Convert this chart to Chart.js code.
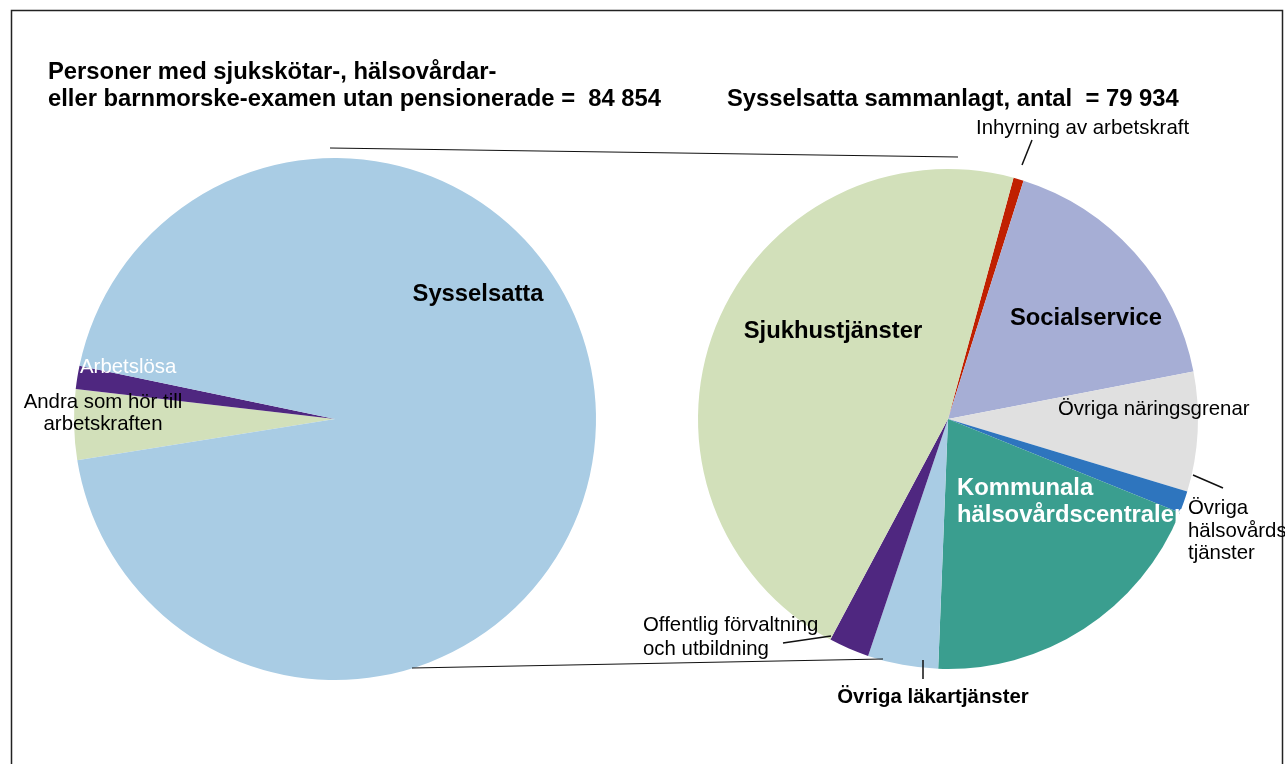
<!DOCTYPE html>
<html>
<head>
<meta charset="utf-8">
<script src="https://cdn.jsdelivr.net/npm/chart.js@4"></script>
<style>
  html, body { margin: 0; padding: 0; background: #fff; }
  #wrap { position: relative; width: 1285px; height: 764px; overflow: hidden; }
  #wrap canvas { position: absolute; left: 0; top: 0; }
</style>
</head>
<body>
<div id="wrap">
  <canvas id="rightPie" width="1285" height="764"></canvas>
  <canvas id="leftPie" width="1285" height="764"></canvas>
</div>
<script>
// left pie: all with the exam (84 854)
var leftLabels = ['Andra som hör till arbetskraften', 'Arbetslösa', 'Sysselsatta'];
var leftValues = [3700, 1220, 79934];
var leftColors = ['#D2E0BA', '#4F2780', '#A9CCE4'];

// right pie: employed by industry (79 934)
var rightLabels = ['Inhyrning av arbetskraft', 'Socialservice', 'Övriga näringsgrenar',
  'Övriga hälsovårdstjänster', 'Kommunala hälsovårdscentraler', 'Övriga läkartjänster',
  'Offentlig förvaltning och utbildning', 'Sjukhustjänster'];
var rightValues = [530, 13650, 6170, 1150, 15590, 3640, 2090, 37110];
var rightColors = ['#C02000', '#A6AED5', '#E0E0E0', '#2E75BE', '#3A9E8F', '#A9CCE4', '#4F2780', '#D2E0BA'];

var FONT = '"Liberation Sans", Arial, sans-serif';

// text placed on the page (s = font size, b = bold)
var notes = [
  { t: 'Personer med sjukskötar-, hälsovårdar-', x: 48, y: 72, b: true },
  { t: 'eller barnmorske-examen utan pensionerade =  84 854', x: 48, y: 99, b: true },
  { t: 'Sysselsatta sammanlagt, antal  = 79 934', x: 727, y: 99, b: true },
  { t: 'Inhyrning av arbetskraft', x: 976, y: 128 },
  { t: 'Sysselsatta', x: 478, y: 294, b: true, a: 'center' },
  { t: 'Arbetslösa', x: 80, y: 367, c: '#fff' },
  { t: 'Andra som hör till', x: 103, y: 402, a: 'center' },
  { t: 'arbetskraften', x: 103, y: 424, a: 'center' },
  { t: 'Sjukhustjänster', x: 833, y: 331, b: true, a: 'center' },
  { t: 'Socialservice', x: 1086, y: 318, b: true, a: 'center' },
  { t: 'Övriga näringsgrenar', x: 1058, y: 409 },
  { t: 'Kommunala', x: 957, y: 488, b: true, c: '#fff' },
  { t: 'hälsovårdscentraler', x: 957, y: 515, b: true, c: '#fff' },
  { t: 'Övriga', x: 1188, y: 508 },
  { t: 'hälsovårds', x: 1188, y: 531 },
  { t: 'tjänster', x: 1188, y: 553 },
  { t: 'Offentlig förvaltning', x: 643, y: 625 },
  { t: 'och utbildning', x: 643, y: 649 },
  { t: 'Övriga läkartjänster', x: 933, y: 697, b: true, s: 20.4, a: 'center' }
];

// connector and leader lines
var strokes = [
  [330, 148, 958, 157, 1.2],
  [412, 668, 883, 659, 1.2],
  [1032, 140, 1022, 165, 1.5],
  [1193, 475, 1223, 488, 1.5],
  [783, 643, 831, 636, 1.5],
  [923, 660, 923, 679, 1.5]
];

var overlay = {
  id: 'overlay',
  afterDraw: function(chart) {
    var ctx = chart.ctx;
    ctx.save();
    // frame
    ctx.strokeStyle = '#222';
    ctx.lineWidth = 1.5;
    ctx.strokeRect(11.5, 10.5, 1271, 800);

    strokes.forEach(function(s) {
      ctx.beginPath();
      ctx.lineWidth = s[4];
      ctx.strokeStyle = '#111';
      ctx.moveTo(s[0], s[1]);
      ctx.lineTo(s[2], s[3]);
      ctx.stroke();
    });

    ctx.textBaseline = 'middle';
    notes.forEach(function(n) {
      var size = n.s || (n.b ? 23.8 : 20.4);
      ctx.font = (n.b ? 'bold ' : '') + size + 'px ' + FONT;
      ctx.fillStyle = n.c || '#000';
      ctx.textAlign = n.a || 'left';
      ctx.fillText(n.t, n.x, n.y);
    });
    ctx.restore();
  }
};

var base = {
  responsive: false,
  animation: false,
  plugins: { legend: { display: false }, tooltip: { enabled: false } },
  events: []
};

new Chart(document.getElementById('rightPie'), {
  type: 'pie',
  data: {
    labels: rightLabels,
    datasets: [{ data: rightValues, backgroundColor: rightColors, borderWidth: 0 }]
  },
  options: Object.assign({}, base, {
    rotation: 15.2,
    layout: { padding: { left: 698, right: 87, top: 169, bottom: 95 } }
  })
});

new Chart(document.getElementById('leftPie'), {
  type: 'pie',
  data: {
    labels: leftLabels,
    datasets: [{ data: leftValues, backgroundColor: leftColors, borderWidth: 0 }]
  },
  options: Object.assign({}, base, {
    rotation: 260.9,
    layout: { padding: { left: 74, right: 689, top: 158, bottom: 84 } }
  }),
  plugins: [overlay]
});
</script>
</body>
</html>
